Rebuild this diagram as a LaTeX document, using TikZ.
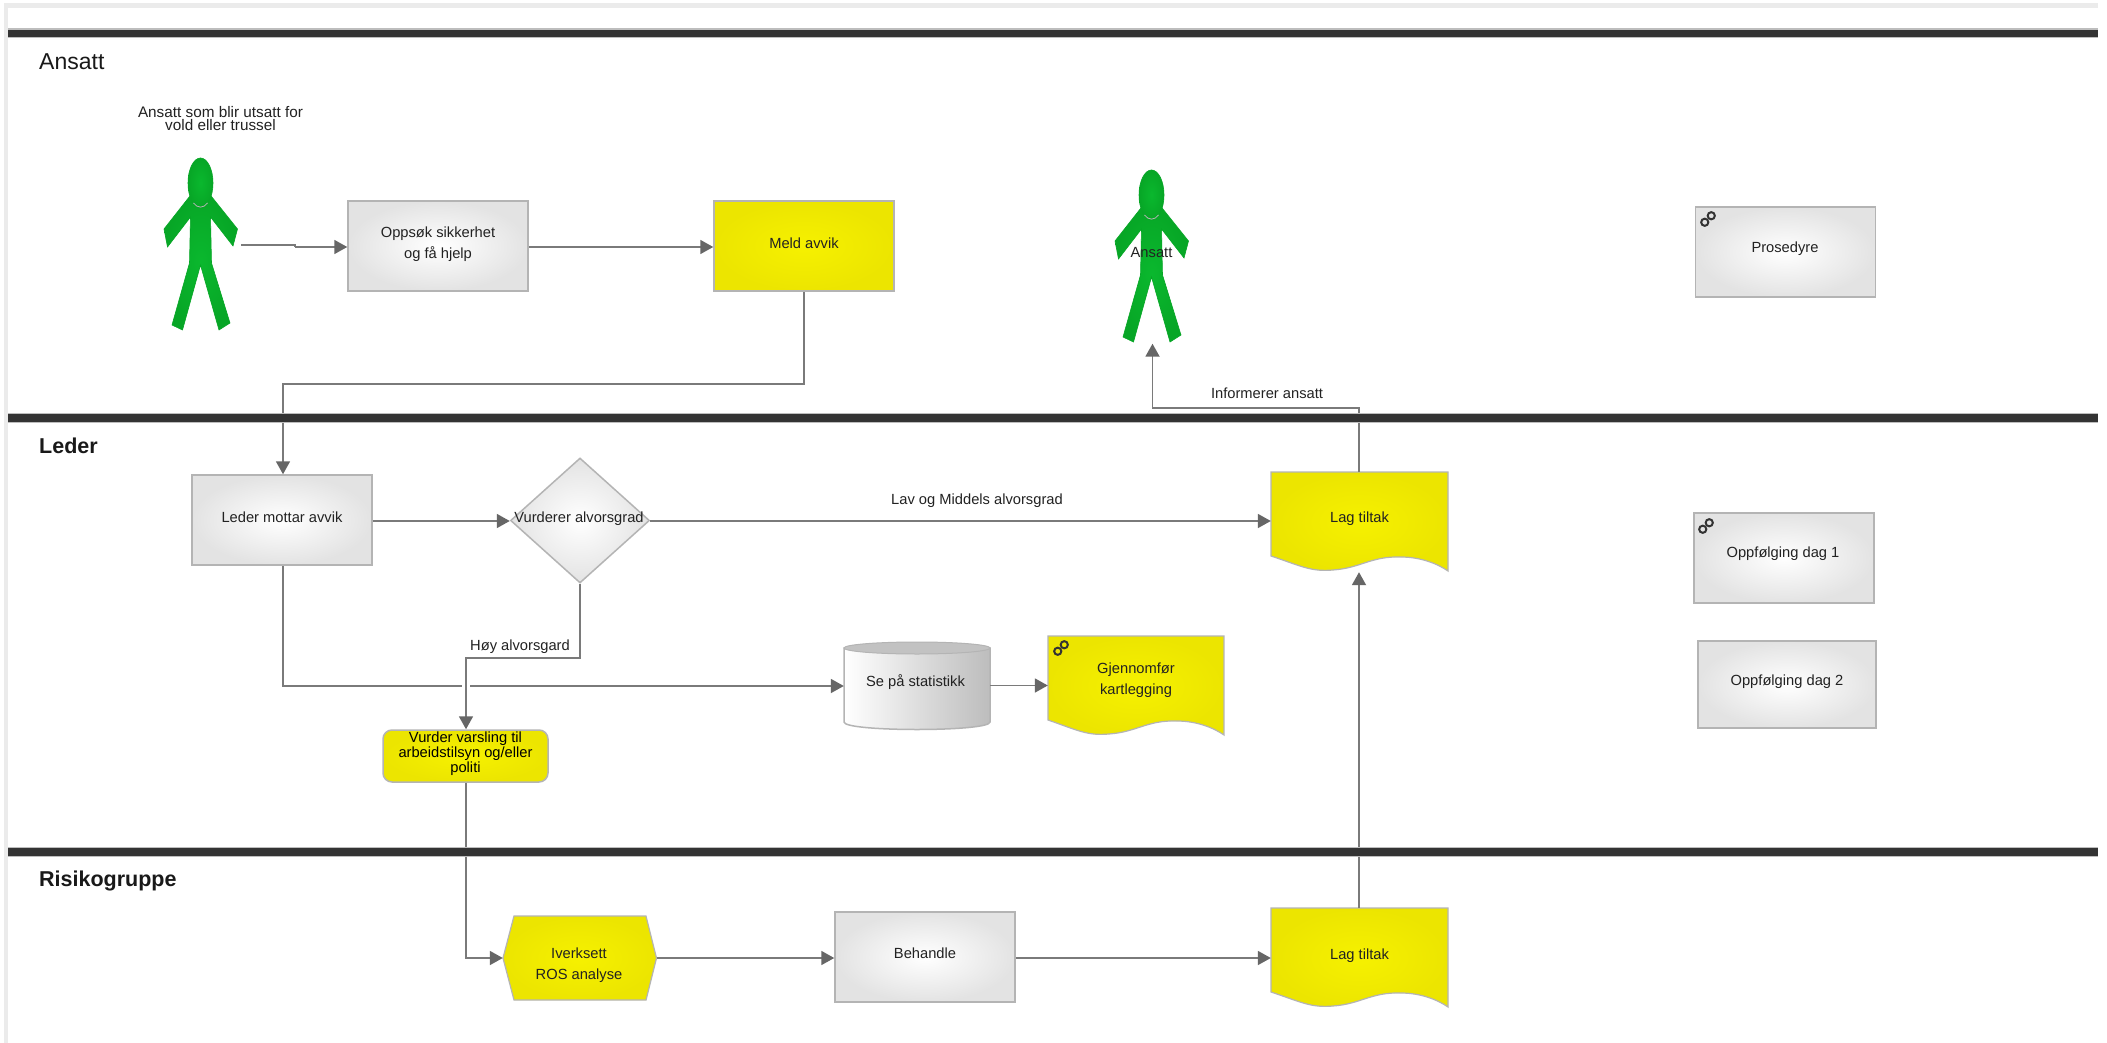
\documentclass[tikz,border=0pt]{standalone}
\usepackage{fontspec}
\setmainfont{Liberation Sans}
\definecolor{lnc}{HTML}{7A7A7A}
\definecolor{tipc}{HTML}{666666}
\definecolor{bord}{HTML}{B4B4B4}
\definecolor{band}{HTML}{333333}
\definecolor{bandedge}{HTML}{BDBDBD}
\definecolor{pgreen}{HTML}{0AB82E}
\definecolor{pgreenb}{HTML}{07A626}
\definecolor{txt}{HTML}{222222}
\definecolor{ycen}{HTML}{F6F100}
\definecolor{yedge}{HTML}{ECE500}
\usetikzlibrary{arrows.meta,shapes.geometric}
\tikzset{
 x=1pt,y=-1pt,
 lnk/.style={draw=lnc,line width=1.8pt,-{Triangle[length=13pt,width=14pt,fill=tipc,color=tipc]}},
 lnkn/.style={draw=lnc,line width=1.8pt},
 graybox/.style={rectangle,draw=bord,line width=1.5pt,inner color=white,outer color=black!11,minimum width=180pt,minimum height=90pt,inner sep=0pt},
 yellowbox/.style={rectangle,draw=bord,line width=1.5pt,inner color=ycen,outer color=yedge,minimum width=180pt,minimum height=90pt,inner sep=0pt},
 docoutline/.style={draw=bord,line width=1.2pt,inner color=ycen,outer color=yedge},
 anchorbox/.style={rectangle,inner sep=0pt},
 twoline/.style={inner sep=0pt,align=center,text=txt,font=\fontsize{14.7}{21}\selectfont},
 lbl/.style={inner sep=0pt,align=center,text=txt,font=\fontsize{14.7}{17}\selectfont},
 lane/.style={inner sep=0pt,anchor=west,text=black!90,font=\fontsize{23}{27}\selectfont},
 laneb/.style={inner sep=0pt,anchor=west,text=black!90,font=\fontsize{21.5}{27}\bfseries\selectfont},
 chainlink/.style={draw=black!80,line width=2pt},
}
% document shape: optional text offset, name, left, top, right, text
\newcommand{\docshape}[6][0]{%
 \path[docoutline] (#3,#4) -- (#5,#4) -- (#5,#4+99)
   .. controls (#5-10,#4+92) and (#5-27,#4+85) .. (#5-47,#4+85)
   .. controls (#5-77,#4+84) and (#5-87,#4+96) .. (#5-115,#4+98)
   .. controls (#5-137,#4+100) and (#5-147,#4+94) .. (#3,#4+84) -- cycle;
 \node[anchorbox,minimum width=#5-#3,minimum height=100pt] (#2) at ({(#3+#5)/2},#4+50) {};
 \node[twoline] (#2t) at ({(#3+#5)/2},#4+50-#1) {#6};
}
\newcommand{\personshape}[2]{%
 \begin{scope}[shift={(#1,#2)}]
 \path[draw=pgreenb,line width=0.6pt,inner color=pgreen,outer color=pgreenb]
  (0,-64) -- (-9,-71) -- (-36.5,-36) -- (-33,-18) -- (-10,-48) -- (-11,-2) -- (-28.5,60) -- (-18,65) -- (0,0) -- (18.5,65) -- (29.5,58) -- (11,-2) -- (10,-48) -- (32.5,-19) -- (37,-36) -- (9,-71) -- cycle;
 \path[draw=pgreenb,line width=0.6pt,inner color=pgreen,outer color=pgreenb] (0,-82) ellipse [x radius=12.5pt,y radius=25pt];
 \draw[bord,line width=0.8pt] (-7,-62) .. controls (-3,-56.5) and (3,-56.5) .. (7,-62);
 \end{scope}}
\newcommand{\chainicon}[2]{%
 \begin{scope}[shift={(#1,#2)},rotate=45]
  \draw[chainlink] (-4.6,0) circle [radius=3.6pt];
  \draw[chainlink] (4.6,0) circle [radius=3.6pt];
 \end{scope}}
\begin{document}
\begin{tikzpicture}
\useasboundingbox (0,0) rectangle (2107,1043);
\fill[white] (0,0) rectangle (2107,1043);
\fill[black!8] (4,3) rectangle (2098,8);
\fill[black!8] (4,3) rectangle (8,1043);
% persons
\personshape{200.5}{265}
\personshape{1151.5}{277}
\coordinate (p1out) at (241,245);
\coordinate (p1step) at (295,245);
\coordinate (p1stepb) at (295,247);
\node[inner sep=0pt,minimum width=74pt,minimum height=172pt] (person2) at (1152.5,257.5) {};
% nodes
\node[inner sep=0pt,align=center,text=txt,font=\fontsize{15.3}{13.5}\selectfont] (p1label) at (220.5,118.5) {Ansatt som blir utsatt for\\vold eller trussel};
\node[lbl] (p2label) at (1151.5,252.5) {Ansatt};
\node[graybox] (oppsok) at (438,246) {};
\node[twoline] (oppsokt) at (438,244) {Oppsøk sikkerhet\\og få hjelp};
\node[yellowbox] (meld) at (804,246) {};
\node[lbl] (meldt) at (804,243) {Meld avvik};
\node[graybox] (mottar) at (282,520) {};
\node[lbl] (mottart) at (282,517) {Leder mottar avvik};
\node[diamond,aspect=1.1,draw=bord,line width=1.5pt,inner color=white,outer color=black!11,minimum width=139pt,minimum height=125pt,inner sep=0pt] (vurd) at (580,520.5) {};
\node[lbl] (vurdt) at (579,519) {Vurderer alvorsgrad};
\docshape[3]{lag1}{1271}{472}{1448}{Lag tiltak}
\docshape[2.5]{lag2}{1271}{908}{1448}{Lag tiltak}
\docshape[5.5]{gjen}{1048}{636}{1224}{Gjennomfør\\kartlegging}
\node[rectangle,rounded corners=9pt,draw=bord,line width=1.5pt,inner color=ycen,outer color=yedge,minimum width=165pt,minimum height=52pt,inner sep=0pt] (varsl) at (465.5,756) {};
\node[inner sep=0pt,align=center,text=black,font=\fontsize{14.7}{13.5}\selectfont] (varslt) at (465.5,753.5) {Vurder varsling til\\arbeidstilsyn og/eller\\politi};
\path[draw=bord,line width=1.2pt,inner color=ycen,outer color=yedge] (503,958) -- (514,916) -- (646,916) -- (656.5,958) -- (646,1000) -- (514,1000) -- cycle;
\node[anchorbox,minimum width=153.5pt,minimum height=84pt] (ros) at (579.75,958) {};
\node[twoline] (rost) at (579,965) {Iverksett\\ROS analyse};
\node[graybox] (behandle) at (925,957) {};
\node[lbl] (behandlet) at (925,953) {Behandle};
% cylinder
\path[draw=bord,line width=1.5pt,left color=white,right color=black!26] (844,648) -- (844,722) .. controls (844,732) and (990,732) .. (990,722) -- (990,648) -- cycle;
\path[draw=bord,line width=1pt,fill=black!24] (917,648) ellipse [x radius=73pt,y radius=6pt];
\node[anchorbox,minimum width=146pt,minimum height=87pt] (stat) at (917,685.5) {};
\node[lbl] (statt) at (915.5,682) {Se på statistikk};
% right column
\node[graybox] (pros) at (1785.5,252) {};
\node[lbl] (prost) at (1785,248.5) {Prosedyre};
\node[graybox] (dag1) at (1784,558) {};
\node[lbl] (dag1t) at (1783,554) {Oppfølging dag 1};
\node[graybox,minimum width=178pt,minimum height=87pt] (dag2) at (1787,684.5) {};
\node[lbl] (dag2t) at (1787,681.5) {Oppfølging dag 2};
\chainicon{1708}{219}
\chainicon{1706}{526}
\chainicon{1061}{648}
% edge labels
\node[lbl] (e1) at (977,500.5) {Lav og Middels alvorsgrad};
\node[lbl] (e2) at (520,647) {Høy alvorsgard};
\node[lbl] (e3) at (1267,393) {Informerer ansatt};
\coordinate (jm1) at (283,686);
\coordinate (jm2) at (804,384);
\coordinate (jm3) at (283,384);
\coordinate (jd1) at (580,658);
\coordinate (jd2) at (466,658);
\coordinate (jl1) at (1359,408);
\coordinate (jl2) at (1152.5,408);
\coordinate (jv) at (466,958);
\coordinate (jr) at (0,521);
% connectors
\draw[lnkn] (p1out) -- (p1step) -- (p1stepb);
\draw[lnk] (p1stepb) -- (oppsok.west |- p1stepb);
\draw[lnk] (oppsok.east |- p1stepb) -- (meld.west |- p1stepb);
\draw[lnk] (meld.south) -- (jm2) -- (jm3) -- (mottar.north -| jm3);
\draw[lnk] (mottar.east |- jr) -- (vurd.west |- jr);
\draw[lnk] (vurd.east |- jr) -- (lag1.west |- jr);
\draw[lnk] (mottar.south -| jm1) -- (jm1) -- (stat.west |- jm1);
\draw[white,line width=8pt] (466,680) -- (466,692);
\draw[lnk] (vurd.south) -- (jd1) -- (jd2) -- (varsl.north -| jd2);
\draw[lnk] (stat.east) -- (gjen.west |- stat.east);
\draw[lnk] (lag1.north -| jl1) -- (jl1) -- (jl2) -- (person2.south);
\draw[lnk] (varsl.south -| jv) -- (jv) -- (ros.west);
\draw[lnk] (ros.east) -- (behandle.west |- ros.east);
\draw[lnk] (behandle.east |- ros.east) -- (lag2.west);
\draw[lnk] (lag2.north -| jl1) -- (lag1.south -| jl1);
% swimlane bands
\foreach \yy in {33.5,418,852}{
 \fill[bandedge] (8,\yy-5) rectangle (2098,\yy+5);
 \fill[band] (8,\yy-3.6) rectangle (2098,\yy+3.6);
}
\node[lane] (l1) at (39,62) {Ansatt};
\node[laneb] (l2) at (39,446) {Leder};
\node[laneb] (l3) at (39,881) {Risikogruppe};
\end{tikzpicture}
\end{document}
